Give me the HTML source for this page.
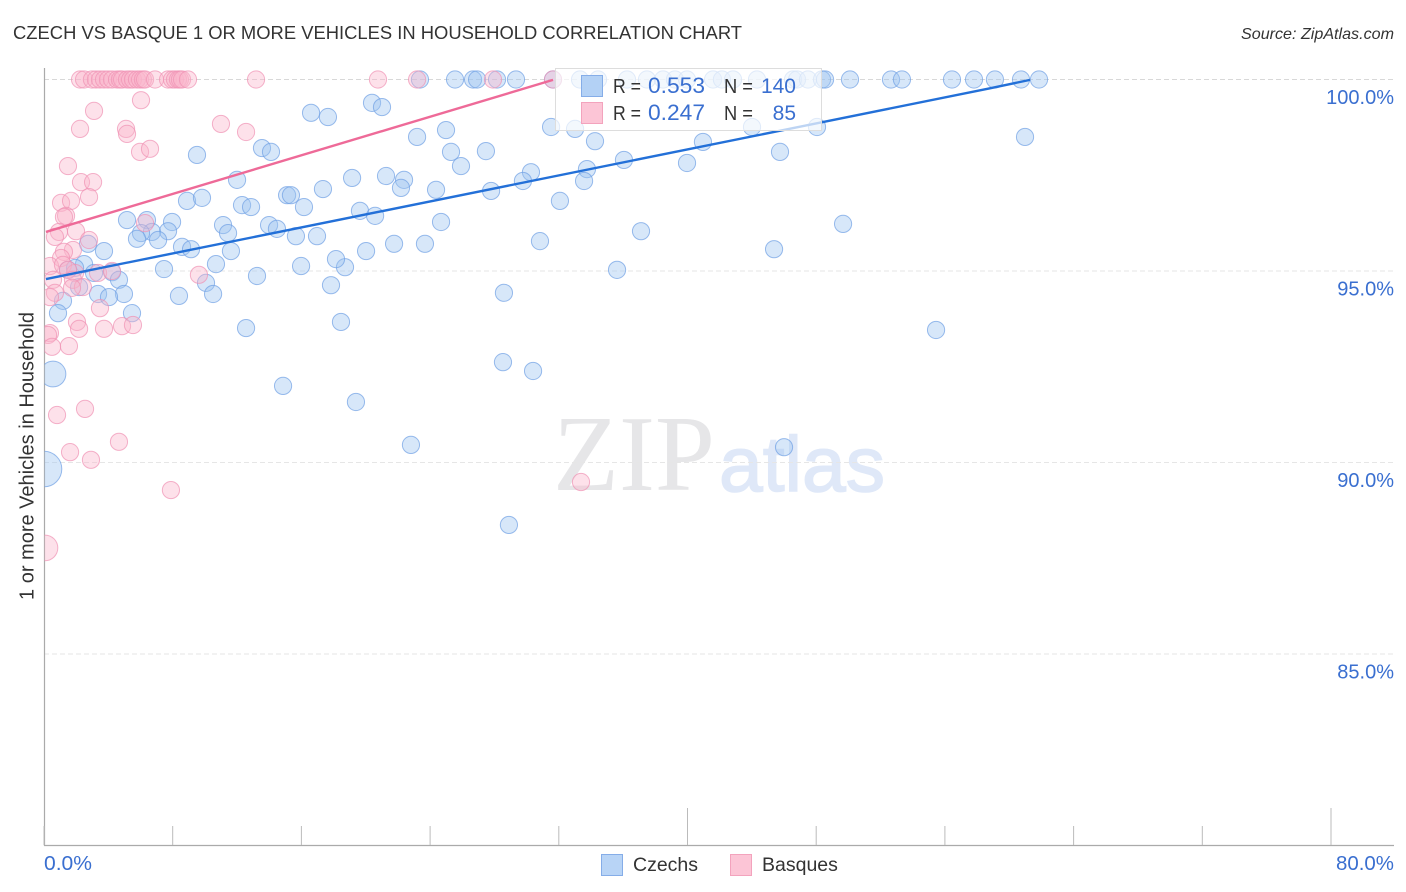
<!DOCTYPE html>
<html lang="en">
<head>
<meta charset="utf-8">
<title>Czech vs Basque 1 or More Vehicles in Household Correlation Chart</title>
<style>
html,body{margin:0;padding:0;background:#fff;width:1406px;height:892px;overflow:hidden}
svg{display:block;font-family:"Liberation Sans",sans-serif}
</style>
</head>
<body>
<svg id="chart" width="1406" height="892" viewBox="0 0 1406 892" xmlns="http://www.w3.org/2000/svg">
  <defs><clipPath id="plot-clip"><rect x="44.5" y="60" width="1350" height="785"/></clipPath></defs>
  <rect width="1406" height="892" fill="#ffffff"/>
  <text x="13" y="39" font-size="18.5" fill="#333333" textLength="729" lengthAdjust="spacingAndGlyphs">CZECH VS BASQUE 1 OR MORE VEHICLES IN HOUSEHOLD CORRELATION CHART</text>
  <text x="1394" y="39" font-size="16" font-style="italic" text-anchor="end" fill="#333333" textLength="153" lengthAdjust="spacingAndGlyphs">Source: ZipAtlas.com</text>
  <text x="553" y="490" font-size="108" font-family="'Liberation Serif',serif" fill="#e6e6e8" textLength="162" lengthAdjust="spacingAndGlyphs">ZIP</text>
  <text x="719" y="491" font-size="78" font-family="'Liberation Sans',sans-serif" fill="#dfe8f8" stroke="#dfe8f8" stroke-width="1.5" textLength="166" lengthAdjust="spacingAndGlyphs">atlas</text>
  <g id="grid"></g>
  <g id="axes"></g>
  <g id="czech-points" clip-path="url(#plot-clip)"></g>
  <g id="basque-points" clip-path="url(#plot-clip)"></g>
  <g id="trends"></g>
  <text transform="translate(33.5,456) rotate(-90)" font-size="20" text-anchor="middle" fill="#333333">1 or more Vehicles in Household</text>

  <g>
    <rect x="555.5" y="68.5" width="266" height="62" fill="#ffffff" fill-opacity="0.7" stroke="#dddddd" stroke-width="1"/>
    <rect x="581.5" y="75.5" width="21" height="21" fill="#b3d1f5" stroke="#85ade8"/>
    <rect x="581.5" y="102.5" width="21" height="21" fill="#fcc5d6" stroke="#f3a3bd"/>
    <text x="613" y="93" font-size="20" fill="#333333" textLength="28" lengthAdjust="spacingAndGlyphs">R =</text>
    <text x="648" y="93" font-size="22" fill="#3a6fd0" textLength="57" lengthAdjust="spacingAndGlyphs">0.553</text>
    <text x="724" y="93" font-size="20" fill="#333333" textLength="29" lengthAdjust="spacingAndGlyphs">N =</text>
    <text x="796" y="93" font-size="21" fill="#3a6fd0" text-anchor="end">140</text>
    <text x="613" y="120" font-size="20" fill="#333333" textLength="28" lengthAdjust="spacingAndGlyphs">R =</text>
    <text x="648" y="120" font-size="22" fill="#3a6fd0" textLength="57" lengthAdjust="spacingAndGlyphs">0.247</text>
    <text x="724" y="120" font-size="20" fill="#333333" textLength="29" lengthAdjust="spacingAndGlyphs">N =</text>
    <text x="796" y="120" font-size="21" fill="#3a6fd0" text-anchor="end">85</text>
  </g>

  <g>
    <rect x="601.5" y="854.5" width="21" height="21" fill="#b8d4f6" stroke="#85ade8"/>
    <text x="633" y="871" font-size="19.5" fill="#333333">Czechs</text>
  </g>
  <g>
    <rect x="730.5" y="854.5" width="21" height="21" fill="#fcc5d6" stroke="#f3a3bd"/>
    <text x="762" y="871" font-size="19.5" fill="#333333">Basques</text>
  </g>
</svg>
<script>
var yTicks = [100, 95, 90, 85];
var yTickLabels = ["100.0%", "95.0%", "90.0%", "85.0%"];
var xTicks = [0, 8, 16, 24, 32, 40, 48, 56, 64, 72, 80];
var xMajorTicks = [40, 80];
var xEndLabels = ["0.0%", "80.0%"];

var czechX = [
  0.56, 0,
  23.37, 25.55, 26.67, 26.92, 28.16, 29.34, 31.64, 33.32, 34.44, 36.24, 37.48, 38.48, 39.22, 39.97, 41.59, 42.14,
  42.83, 44.32, 46.56, 46.81, 47.49, 48.36, 48.55, 50.10, 52.65, 53.33, 56.44, 57.81, 59.11, 60.73, 61.85,
  20.39, 21.01, 24.99, 23.19, 31.52, 33.01, 34.25, 25.30, 27.47, 25.92, 40.96, 36.05, 39.97, 30.27, 29.77, 33.75,
  33.57, 21.26, 22.38, 22.19, 24.37, 27.79, 19.15, 32.07, 19.64, 20.58, 24.68, 37.11, 30.83, 21.76, 23.68, 20.02,
  18.71, 35.62, 28.59, 18.46, 28.53, 44.01, 48.05, 45.75, 60.98, 49.67, 45.38, 55.45, 46.00, 30.40, 28.90, 22.81,
  19.39, 14.86, 16.60, 17.65, 9.51, 13.55, 14.11, 12.00, 17.34, 15.11, 15.35, 16.16, 8.89, 9.82, 12.31, 12.87,
  5.16, 6.40, 7.96, 7.71, 6.71, 6.03, 5.78, 7.09, 11.13, 11.44, 13.99, 14.48, 15.66, 16.97, 2.74, 3.73,
  8.58, 9.14, 11.62, 18.15, 10.69, 15.98, 7.46, 13.24, 17.84, 2.49, 1.49, 1.93, 3.11, 4.23, 4.66, 2.18,
  3.36, 4.97, 4.04, 10.07, 10.51, 8.39, 1.18, 0.87, 5.47, 12.56
];
var czechY = [
  92.31, 89.83,
  100, 100, 100, 100, 100, 100, 100, 100, 100, 100, 100, 100, 100, 100, 100, 100,
  100, 100, 100, 100, 100, 100, 100, 100, 100, 100, 100, 100, 100, 100, 100,
  99.39, 99.28, 98.68, 98.50, 98.76, 98.71, 98.39, 98.11, 98.13, 97.74, 98.37, 97.90, 97.82, 97.58, 97.35, 97.66,
  97.35, 97.48, 97.38, 97.17, 97.12, 97.09, 97.43, 96.83, 96.57, 96.44, 96.28, 96.04, 95.78, 95.71, 95.71, 95.52,
  95.10, 95.03, 94.43, 93.67, 92.62, 98.76, 98.76, 98.11, 98.50, 96.23, 95.57, 93.46, 90.40, 92.39, 88.37, 90.46,
  91.58, 92.00, 99.13, 99.02, 98.03, 98.21, 98.11, 97.38, 97.14, 96.98, 96.98, 96.67, 96.83, 96.91, 96.72, 96.67,
  96.33, 96.33, 96.28, 96.04, 96.02, 95.99, 95.84, 95.81, 96.20, 95.99, 96.20, 96.10, 95.91, 95.91, 95.71, 95.52,
  95.63, 95.57, 95.52, 95.31, 95.18, 95.13, 95.05, 94.87, 94.63, 95.18, 95.03, 95.08, 94.95, 94.97, 94.77, 94.58,
  94.40, 94.40, 94.32, 94.69, 94.40, 94.35, 94.22, 93.90, 93.90, 93.51
];
var czechWeight = [2.23, 4.28];

var basqueX = [
  0.06,
  2.24, 2.49, 2.98, 3.23, 3.48, 3.73, 3.98, 4.23, 4.54, 4.72, 4.85, 5.16, 5.35, 5.53, 5.78, 5.97,
  6.15, 6.28, 6.90, 7.71, 7.96, 8.14, 8.33, 8.45, 8.58, 8.95, 13.18, 20.76, 23.19, 27.91, 31.64,
  6.03, 3.11, 2.24, 5.10, 5.16, 11.00, 12.56, 5.97, 6.59, 1.49, 2.30, 3.05, 2.80, 1.06, 1.68, 1.37,
  1.24, 0.93, 0.68, 1.99, 2.80, 6.28, 1.80, 1.24, 1.06, 0.37, 1.18, 1.93, 1.49, 3.36, 4.23, 0.56,
  1.80, 2.42, 1.74, 0.68, 0.37, 9.63, 3.48, 2.05, 2.18, 3.73, 4.85, 5.53, 0.37, 0.25, 0.50, 1.55,
  0.81, 2.55, 4.66, 1.62, 2.92, 7.89, 33.38
];
var basqueY = [
  87.77,
  100, 100, 100, 100, 100, 100, 100, 100, 100, 100, 100, 100, 100, 100, 100, 100,
  100, 100, 100, 100, 100, 100, 100, 100, 100, 100, 100, 100, 100, 100, 100,
  99.46, 99.18, 98.71, 98.71, 98.58, 98.84, 98.63, 98.11, 98.19, 97.74, 97.32, 97.32, 96.93, 96.78, 96.83, 96.44,
  96.41, 96.02, 95.89, 96.04, 95.81, 96.25, 95.55, 95.50, 95.34, 95.13, 95.16, 94.95, 95.03, 94.95, 95.00, 94.77,
  94.77, 94.58, 94.56, 94.43, 94.32, 94.90, 94.03, 93.67, 93.49, 93.49, 93.56, 93.59, 93.38, 93.33, 93.02, 93.04,
  91.24, 91.40, 90.54, 90.27, 90.07, 89.28, 89.49
];
var basqueWeight = [2.23];

var czechTrendX = [0.12, 58.8, 61.29];
var czechTrendY = [94.79, 99.77, 99.99];
var basqueTrendX = [0.12, 31.64];
var basqueTrendY = [96.02, 99.99];

var SVGNS = "http://www.w3.org/2000/svg";
function xScale(v) { return 44 + v * 16.0875; }
function yScale(v) { return 79.5 + (100 - v) * 38.3; }
function make(tag, parent, attrs) {
  var el = document.createElementNS(SVGNS, tag);
  for (var k in attrs) el.setAttribute(k, attrs[k]);
  parent.appendChild(el);
  return el;
}

var grid = document.getElementById("grid");
var axes = document.getElementById("axes");

yTicks.forEach(function (t, i) {
  var line = make("line", grid, { x1: 44, x2: 1394, y1: yScale(t), y2: yScale(t), stroke: i === 0 ? "#d8d8d8" : "#e6e6e6", "stroke-width": 1, "stroke-dasharray": "5 3" });
  
  
  var label = make("text", axes, { x: 1394, y: yScale(t) + 24.5, "font-size": 20, "text-anchor": "end", fill: "#3a6fd0" });
  
  
  label.textContent = yTickLabels[i];
});

var yAxis = make("line", axes, { x1: 44.5, x2: 44.5, y1: 68, y2: 846, stroke: "#aaaaaa", "stroke-width": 1.2 });


var xAxis = make("line", axes, { x1: 44, x2: 1394, y1: 845.5, y2: 845.5, stroke: "#aaaaaa", "stroke-width": 1.2 });



xTicks.forEach(function (t) {
  var major = xMajorTicks.indexOf(t) >= 0;
  var tick = make("line", axes, { x1: xScale(t), x2: xScale(t), y1: major ? 808 : 826, y2: 845, stroke: "#bbbbbb", "stroke-width": 1 });
  
  
});

var xLabelLeft = make("text", axes, { x: 44, y: 870, "font-size": 20, fill: "#3a6fd0", textLength: 48, lengthAdjust: "spacingAndGlyphs" });


xLabelLeft.textContent = xEndLabels[0];
var xLabelRight = make("text", axes, { x: 1394, y: 870, "font-size": 20, "text-anchor": "end", fill: "#3a6fd0", textLength: 58, lengthAdjust: "spacingAndGlyphs" });


xLabelRight.textContent = xEndLabels[1];

function drawPoints(groupId, xs, ys, weights, fill, stroke, pointName) {
  var group = document.getElementById(groupId);
  xs.forEach(function (x, i) {
    var w = weights[i] || 1;
    var dot = make("circle", group, { cx: xScale(x), cy: yScale(ys[i]), r: 8.6 * Math.sqrt(w), fill: fill, "fill-opacity": 0.4, stroke: stroke, "stroke-opacity": 0.7, "stroke-width": 1 });
    
    
  });
}
drawPoints("czech-points", czechX, czechY, czechWeight, "#9cc3f0", "#6f9fe4", "czech-point");
drawPoints("basque-points", basqueX, basqueY, basqueWeight, "#f9b4cb", "#f092b3", "basque-point");

function drawTrend(xs, ys, color, name) {
  var pts = xs.map(function (x, i) { return xScale(x) + "," + yScale(ys[i]); }).join(" ");
  var line = make("polyline", document.getElementById("trends"), { points: pts, fill: "none", stroke: color, "stroke-width": 2.4, "stroke-linejoin": "round" });
  
  
}
drawTrend(czechTrendX, czechTrendY, "#2370d8", "czech-trend-line");
drawTrend(basqueTrendX, basqueTrendY, "#ee6a98", "basque-trend-line");
</script>
</body>
</html>
